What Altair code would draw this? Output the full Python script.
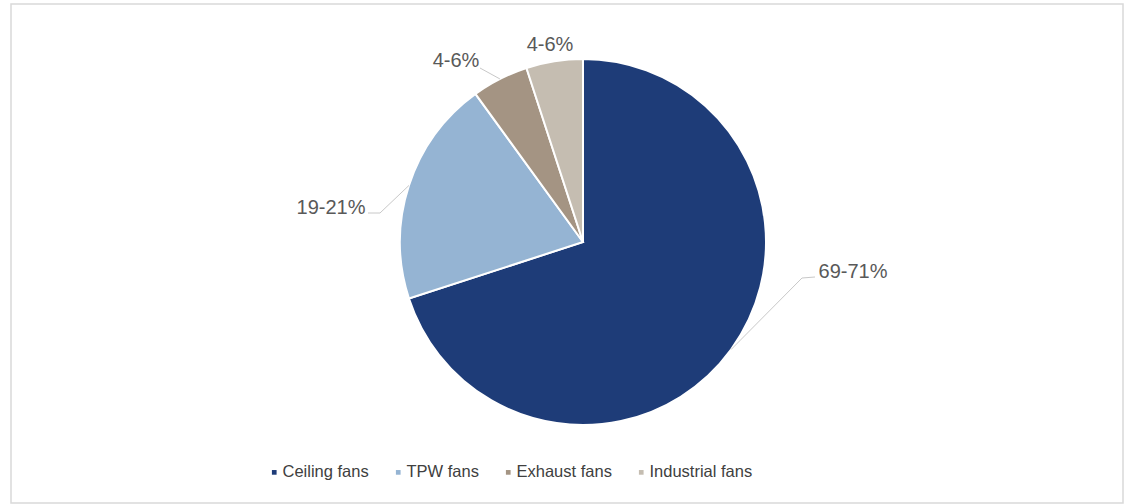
import altair as alt
import numpy as np
import pandas as pd

# ---- data ----
categories = ["Ceiling fans", "TPW fans", "Exhaust fans", "Industrial fans"]
shares = [70, 20, 5, 5]
labels = ["69-71%", "19-21%", "4-6%", "4-6%"]
colors = ["#1e3c78", "#95b4d3", "#a49483", "#c5bdb1"]

# ---- layout (pixels inside the framed plot area) ----
W, H = 1112, 499
CX, CY, R = 572, 238, 183
# label centres relative to pie centre
lab_dx = [270, -252, -127, -33]
lab_dy = [30, -34, -181, -197]
# leader-line bend/end points relative to pie centre (empty = no leader)
leader_pts = [
    [(219, 36), (232, 35)],
    [(-203, -29), (-215, -29)],
    [(-103, -174)],
    [],
]

df = pd.DataFrame({"category": categories, "share": shares, "label": labels,
                   "idx": range(len(categories))})
df["lx"] = [CX + d for d in lab_dx]
df["ly"] = [CY + d for d in lab_dy]

# leader lines start on the pie edge at each slice's mid angle
total = float(sum(shares))
cum = np.cumsum([0] + shares)
rows = []
for i, cat in enumerate(categories):
    if not leader_pts[i]:
        continue
    mid = (cum[i] + cum[i + 1]) / 2 / total * 2 * np.pi
    pts = [(R * np.sin(mid), -R * np.cos(mid))] + leader_pts[i]
    for k, (dx, dy) in enumerate(pts):
        rows.append({"category": cat, "k": k, "x": CX + dx, "y": CY + dy})
lines_df = pd.DataFrame(rows)

xs = alt.Scale(domain=[0, W], range=[0, W])
ys = alt.Scale(domain=[0, H], range=[0, H])

pie = alt.Chart(df).mark_arc(outerRadius=R, stroke="white", strokeWidth=2).encode(
    theta=alt.Theta("share:Q", stack=True),
    color=alt.Color(
        "category:N",
        scale=alt.Scale(domain=categories, range=colors),
        sort=categories,
        legend=alt.Legend(
            title=None, orient="none", direction="horizontal",
            legendX=255, legendY=460, symbolType="square", symbolSize=22,
            symbolStrokeWidth=0, labelFontSize=16.5, labelColor="#404040",
            labelFont="Liberation Sans", labelOffset=0, columnPadding=21,
            padding=0,
        ),
    ),
    order=alt.Order("idx:Q"),
    x=alt.value(CX),
    y=alt.value(CY),
)

leaders = alt.Chart(lines_df).mark_line(color="#c8c8c8", strokeWidth=1).encode(
    x=alt.X("x:Q", scale=xs, axis=None),
    y=alt.Y("y:Q", scale=ys, axis=None),
    detail="category:N",
    order="k:Q",
)

text = alt.Chart(df).mark_text(fontSize=20, color="#595959", font="Liberation Sans",
                               baseline="middle", align="center").encode(
    x=alt.X("lx:Q", scale=xs, axis=None),
    y=alt.Y("ly:Q", scale=ys, axis=None),
    text="label:N",
)

chart = alt.layer(pie, leaders, text).properties(
    width=W, height=H,
    autosize=alt.AutoSizeParams(type="none"),
    padding={"left": 11, "top": 4, "right": 7, "bottom": 1},
    background="white",
).configure_view(stroke="#d9d9d9", strokeWidth=1.5)

chart.save("out.html", embed_options={"renderer": "svg", "actions": False})
